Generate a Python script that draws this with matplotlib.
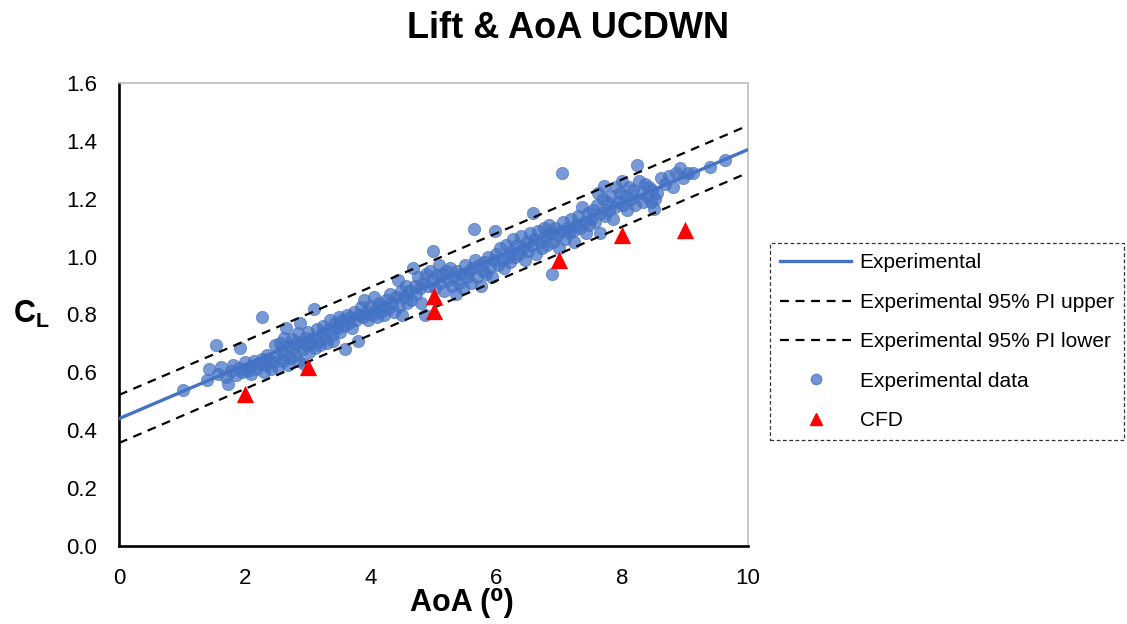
import numpy as np
import matplotlib
matplotlib.use("Agg")
import matplotlib.pyplot as plt
from matplotlib.lines import Line2D

plt.rcParams['font.family'] = ['Liberation Sans', 'DejaVu Sans']
plt.rcParams['mathtext.fontset'] = 'custom'
plt.rcParams['mathtext.rm'] = 'Liberation Sans'
plt.rcParams['mathtext.bf'] = 'Liberation Sans:bold'

# measured lift coefficient vs angle of attack
aoa_exp = [
    1.02, 1.40, 1.43, 1.54, 1.58, 1.62, 1.70, 1.74, 1.78, 1.82,
    1.86, 1.90, 1.92, 1.96, 2.00, 2.04, 2.08, 2.10, 2.14, 2.18,
    2.22, 2.27, 2.28, 2.30, 2.34, 2.36, 2.40, 2.42, 2.46, 2.48,
    2.50, 2.53, 2.56, 2.58, 2.60, 2.62, 2.64, 2.66, 2.68, 2.70,
    2.72, 2.75, 2.77, 2.80, 2.82, 2.84, 2.86, 2.88, 2.90, 2.92,
    2.94, 2.96, 2.98, 3.00, 3.02, 3.05, 3.08, 3.10, 3.12, 3.14,
    3.17, 3.20, 3.22, 3.25, 3.28, 3.30, 3.33, 3.36, 3.38, 3.41,
    3.44, 3.47, 3.50, 3.52, 3.55, 3.58, 3.60, 3.62, 3.65, 3.68,
    3.70, 3.73, 3.76, 3.80, 3.82, 3.85, 3.88, 3.90, 3.93, 3.96,
    3.99, 4.02, 4.05, 4.08, 4.10, 4.13, 4.16, 4.19, 4.22, 4.25,
    4.28, 4.31, 4.34, 4.37, 4.40, 4.43, 4.45, 4.48, 4.50, 4.53,
    4.56, 4.58, 4.61,
    4.64, 4.67, 4.70, 4.72, 4.75, 4.78, 4.80, 4.83, 4.86, 4.88,
    4.91, 4.94, 4.97, 4.99, 5.02, 5.05, 5.08, 5.11, 5.14, 5.17,
    5.20, 5.23, 5.26, 5.29, 5.32, 5.35, 5.38, 5.41, 5.44, 5.47,
    5.50, 5.53, 5.56, 5.59,
    5.62, 5.64, 5.66, 5.69, 5.72, 5.75, 5.78, 5.81, 5.84, 5.87,
    5.90, 5.93, 5.96, 5.98, 6.00, 6.03, 6.06, 6.09, 6.12, 6.15,
    6.18, 6.21, 6.24, 6.27, 6.30, 6.33, 6.36, 6.39, 6.42, 6.45,
    6.48, 6.51, 6.54, 6.57,
    6.58, 6.60, 6.63, 6.66, 6.69, 6.72, 6.75, 6.78, 6.81, 6.84,
    6.87, 6.88, 6.90, 6.93, 6.96, 6.99, 7.02, 7.04, 7.06, 7.09,
    7.12, 7.15, 7.18, 7.21, 7.24, 7.27, 7.30, 7.33, 7.36, 7.39,
    7.42, 7.45, 7.48, 7.51, 7.54, 7.57,
    7.60, 7.62, 7.64, 7.66, 7.69, 7.71, 7.73, 7.76, 7.79, 7.82,
    7.85, 7.88, 7.90, 7.93, 7.96, 7.99, 8.02, 8.05, 8.08, 8.11,
    8.14, 8.17, 8.20, 8.24, 8.27, 8.30, 8.33, 8.36, 8.39, 8.42,
    8.45, 8.48, 8.50, 8.52, 8.55,
    8.62, 8.68, 8.74, 8.80, 8.86, 8.92, 8.96, 9.05, 9.12, 9.40,
    9.63,
]
cl_exp = [
    0.540, 0.575, 0.610, 0.695, 0.595, 0.620, 0.585, 0.560, 0.605, 0.625,
    0.590, 0.615, 0.685, 0.600, 0.635, 0.605, 0.620, 0.595, 0.640, 0.610,
    0.630, 0.790, 0.645, 0.600, 0.625, 0.660, 0.640, 0.610, 0.635, 0.695,
    0.655, 0.620, 0.700, 0.675, 0.640, 0.720, 0.660, 0.755, 0.625, 0.690,
    0.650, 0.715, 0.680, 0.700, 0.660, 0.735, 0.640, 0.770, 0.705, 0.680,
    0.630, 0.720, 0.695, 0.740, 0.670, 0.700, 0.720, 0.820, 0.685, 0.750,
    0.710, 0.695, 0.735, 0.760, 0.720, 0.700, 0.745, 0.780, 0.730, 0.710,
    0.770, 0.755, 0.790, 0.740, 0.780, 0.760, 0.680, 0.800, 0.770, 0.790,
    0.755, 0.810, 0.780, 0.710, 0.800, 0.825, 0.790, 0.850, 0.810, 0.780,
    0.830, 0.800, 0.860, 0.820, 0.790, 0.840, 0.810, 0.830, 0.800, 0.850,
    0.820, 0.870, 0.840, 0.810, 0.860, 0.920, 0.830, 0.880, 0.800, 0.860,
    0.900, 0.840, 0.880,
    0.850, 0.960, 0.900, 0.870, 0.930, 0.890, 0.840, 0.910, 0.800, 0.940,
    0.900, 0.950, 0.920, 1.020, 0.890, 0.935, 0.970, 0.910, 0.940, 0.880,
    0.950, 0.920, 0.960, 0.900, 0.930, 0.870, 0.950, 0.910, 0.940, 0.890,
    0.970, 0.930, 0.950, 0.910,
    0.960, 1.095, 0.990, 0.930, 0.970, 0.900, 0.950, 0.980, 0.940, 1.000,
    0.965, 0.930, 0.990, 1.090, 1.010, 0.970, 1.030, 0.990, 0.960, 1.040,
    1.000, 0.980, 1.020, 1.060, 1.000, 1.040, 1.010, 1.070, 1.030, 0.990,
    1.050, 1.020, 1.080, 1.040,
    1.150, 1.060, 1.010, 1.090, 1.050, 1.030, 1.100, 1.070, 1.040, 1.110,
    1.080, 0.940, 1.050, 1.100, 1.070, 1.030, 1.090, 1.290, 1.120, 1.060,
    1.100, 1.080, 1.130, 1.090, 1.050, 1.110, 1.140, 1.100, 1.170, 1.120,
    1.080, 1.150, 1.110, 1.130, 1.160, 1.120,
    1.180, 1.220, 1.080, 1.150, 1.200, 1.245, 1.140, 1.190, 1.160, 1.210,
    1.130, 1.170, 1.240, 1.190, 1.220, 1.260, 1.180, 1.210, 1.160, 1.240,
    1.200, 1.230, 1.180, 1.315, 1.260, 1.220, 1.190, 1.250, 1.210, 1.240,
    1.190, 1.230, 1.165, 1.200, 1.220,
    1.270, 1.250, 1.280, 1.240, 1.290, 1.305, 1.270, 1.290, 1.290, 1.310,
    1.335,
]

# CFD predictions
aoa_cfd = [2, 3, 5, 5, 7, 8, 9]
cl_cfd = [0.525, 0.618, 0.864, 0.812, 0.988, 1.075, 1.092]

# linear fit and 95% prediction interval, evaluated at the axis ends
aoa_fit = [0, 10]
cl_fit = [0.440, 1.370]
cl_pi_upper = [0.522, 1.453]
cl_pi_lower = [0.356, 1.290]

blue = '#4472C4'
dash = (0, (4, 3))

fig = plt.figure(figsize=(11.27, 6.24), dpi=100)
ax = fig.add_axes([119/1127, 1 - 546/624, (748 - 119)/1127, (546 - 83)/624])

ax.scatter(aoa_exp, cl_exp, s=78, color=blue, alpha=0.72, linewidths=0.6,
           edgecolors=blue, zorder=2)
ax.plot(aoa_fit, cl_fit, color=blue, lw=2.4, zorder=3)
ax.plot(aoa_fit, cl_pi_upper, color='black', ls=dash, lw=1.6, zorder=3)
ax.plot(aoa_fit, cl_pi_lower, color='black', ls=dash, lw=1.6, zorder=3)
ax.scatter(aoa_cfd, cl_cfd, s=155, marker='^', color='#FF0000', linewidths=0,
           zorder=4)

ax.set_xlim(0, 10)
ax.set_ylim(0, 1.6)
ax.set_xticks(np.arange(0, 11, 2))
ax.set_yticks(np.arange(0, 1.61, 0.2))
ax.yaxis.set_major_formatter(matplotlib.ticker.FormatStrFormatter('%.1f'))
ax.tick_params(length=0, labelsize=16)
ax.tick_params(axis='x', pad=16)
ax.tick_params(axis='y', pad=16)

for side in ('left', 'bottom'):
    ax.spines[side].set_linewidth(1.9)
    ax.spines[side].set_color('black')
for side in ('top', 'right'):
    ax.spines[side].set_linewidth(1.2)
    ax.spines[side].set_color('#bfbfbf')

ax.set_xlabel('AoA (\u2070)', fontsize=22, fontweight='bold')
ax.xaxis.set_label_coords((462 - 119)/629, -(603 - 546)/463, transform=ax.transAxes)
ax.xaxis.label.set_va('center')
fig.text(31/1127, 1 - 314/624, r'$\mathbf{C_L}$', fontsize=22,
         ha='center', va='center')
fig.text(568/1127, 1 - 29/624, 'Lift & AoA UCDWN', fontsize=26,
         fontweight='bold', ha='center', va='center')

handles = [
    Line2D([], [], color=blue, lw=2.4),
    Line2D([], [], color='black', ls=dash, lw=1.6),
    Line2D([], [], color='black', ls=dash, lw=1.6),
    Line2D([], [], ls='none', marker='o', ms=7.5, color=blue, alpha=0.75),
    Line2D([], [], ls='none', marker='^', ms=8, color='#FF0000'),
]
labels = ['Experimental', 'Experimental 95% PI upper',
          'Experimental 95% PI lower', 'Experimental data', 'CFD']
leg = fig.legend(handles, labels, loc='upper left',
                 bbox_to_anchor=(770/1127, 1 - 243/624), borderaxespad=0,
                 fontsize=15, frameon=True, fancybox=False,
                 handlelength=3.4, handletextpad=0.4, labelspacing=0.98,
                 borderpad=0.5)
frame = leg.get_frame()
frame.set_edgecolor('black')
frame.set_linestyle((0, (3, 2)))
frame.set_linewidth(0.9)

fig.savefig('out.png', dpi=100)
